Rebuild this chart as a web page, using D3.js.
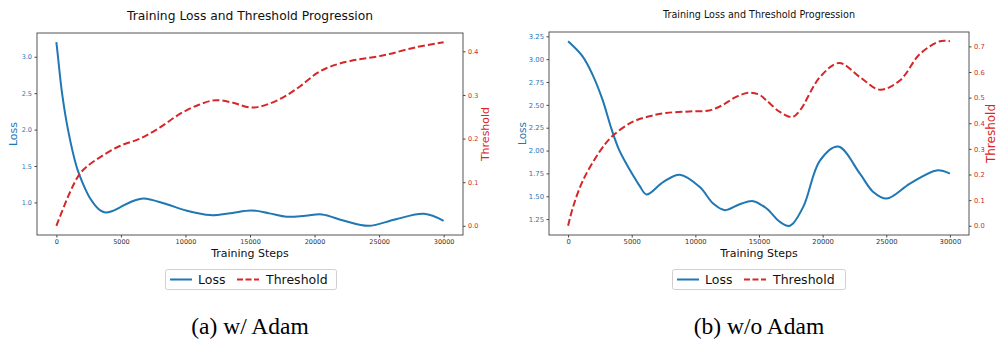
<!DOCTYPE html>
<html>
<head>
<meta charset="utf-8">
<script src="https://cdn.jsdelivr.net/npm/d3@7"></script>
<style>
  html, body { margin: 0; padding: 0; background: #fff; }
  svg { display: block; }
</style>
</head>
<body>
<svg id="chart" width="997" height="339"></svg>
<script>
// ---------- DATA ----------
const panelTitles = ["Training Loss and Threshold Progression", "Training Loss and Threshold Progression"];
const captions = ["(a) w/ Adam", "(b) w/o Adam"];
const xLabel = "Training Steps";
const seriesNames = ["Loss", "Threshold"];
const xTicks = [0, 5000, 10000, 15000, 20000, 25000, 30000];

// Panel (a): w/ Adam
const stepsLossA = [0, 125, 440, 900, 1550, 1786, 2200, 2600, 3000, 3400, 3800, 4300, 4900, 5800, 6755, 8500, 10117, 11925, 13500, 15100, 16500, 17850, 19300, 20574, 22300, 24193, 26300, 28494, 30000];
const lossA      = [3.2, 3.0, 2.5, 2.0, 1.5, 1.378, 1.20, 1.06, 0.96, 0.89, 0.862, 0.88, 0.93, 1.01, 1.055, 0.978, 0.885, 0.826, 0.853, 0.89, 0.85, 0.803, 0.817, 0.835, 0.748, 0.679, 0.77, 0.844, 0.748];
const stepsThrA  = [0, 1056, 1786, 2374, 3370, 4915, 6491, 8000, 9596, 11000, 12314, 13700, 15100, 16304, 17598, 18890, 20186, 21220, 22770, 25357, 27950, 30000];
const thrA       = [0, 0.077, 0.118, 0.136, 0.157, 0.183, 0.200, 0.225, 0.257, 0.277, 0.288, 0.282, 0.271, 0.278, 0.295, 0.32, 0.35, 0.365, 0.378, 0.391, 0.41, 0.421];
const lossTicksA = [1.0, 1.5, 2.0, 2.5, 3.0];
const thrTicksA  = [0.0, 0.1, 0.2, 0.3, 0.4];

// Panel (b): w/o Adam
const stepsLossB = [0, 1124, 1910, 2697, 3400, 4000, 4600, 5100, 5637, 6164, 7469, 8782, 10354, 11399, 12318, 13491, 14544, 15597, 16640, 17430, 18475, 19787, 21226, 22930, 23978, 25031, 26860, 28960, 30000];
const lossB      = [3.196, 3.033, 2.834, 2.56, 2.24, 2.01, 1.85, 1.73, 1.61, 1.52, 1.655, 1.736, 1.60, 1.42, 1.348, 1.413, 1.446, 1.366, 1.22, 1.177, 1.384, 1.89, 2.043, 1.747, 1.547, 1.475, 1.638, 1.783, 1.747];
const stepsThrB  = [0, 393, 1179, 2490, 3483, 5055, 6384, 7695, 9528, 11100, 12107, 13160, 14210, 14996, 15597, 16640, 17600, 18215, 19787, 21300, 22930, 24500, 26070, 27640, 29220, 30000];
const thrB       = [0, 0.074, 0.178, 0.29, 0.35, 0.405, 0.427, 0.44, 0.446, 0.45, 0.47, 0.502, 0.519, 0.512, 0.489, 0.444, 0.424, 0.45, 0.58, 0.635, 0.58, 0.531, 0.567, 0.67, 0.72, 0.72];
const lossTicksB = [1.25, 1.50, 1.75, 2.00, 2.25, 2.50, 2.75, 3.00, 3.25];
const thrTicksB  = [0.0, 0.1, 0.2, 0.3, 0.4, 0.5, 0.6, 0.7];

// ---------- STYLE / LAYOUT ----------
const BLUE = "#1f77b4", RED = "#d62728";
const svg = d3.select("#chart");

const panels = [
  { box: {x0: 37, x1: 463, y0: 33, y1: 235}, title: panelTitles[0], titleSize: 12.3, titleY: 19.5,
    stepsLoss: stepsLossA, loss: lossA, stepsThr: stepsThrA, thr: thrA,
    lossTicks: lossTicksA, thrTicks: thrTicksA, lossFmt: d3.format(".1f"), thrFmt: d3.format(".1f"),
    tickSize: 6.5, lossLabelSize: 11, thrLabelSize: 11, lossLabelX: 13, thrLabelX: 485,
    legend: {x0: 165, x1: 336}, caption: captions[0] },
  { box: {x0: 549, x1: 969, y0: 32, y1: 235}, title: panelTitles[1], titleSize: 9.6, titleY: 17.5,
    stepsLoss: stepsLossB, loss: lossB, stepsThr: stepsThrB, thr: thrB,
    lossTicks: lossTicksB, thrTicks: thrTicksB, lossFmt: d3.format(".2f"), thrFmt: d3.format(".1f"),
    tickSize: 6.8, lossLabelSize: 10.5, thrLabelSize: 12, lossLabelX: 521.5, thrLabelX: 991,
    legend: {x0: 672, x1: 845}, caption: captions[1] }
];

function padded(ext) { const r = ext[1] - ext[0]; return [ext[0] - 0.05 * r, ext[1] + 0.05 * r]; }

panels.forEach(p => {
  const b = p.box;
  const g = svg.append("g");
  const x = d3.scaleLinear().domain(padded([0, 30000])).range([b.x0, b.x1]);
  const yL = d3.scaleLinear().domain(padded(d3.extent(p.loss))).range([b.y1, b.y0]);
  const yR = d3.scaleLinear().domain(padded(d3.extent(p.thr))).range([b.y1, b.y0]);
  const cx = (b.x0 + b.x1) / 2;
  const cy = (b.y0 + b.y1) / 2;

  // title
  g.append("text").attr("x", cx).attr("y", p.titleY).attr("text-anchor", "middle")
    .attr("font-family", "DejaVu Sans").attr("font-size", p.titleSize).attr("fill", "#111").text(p.title);

  // lines
  const lossPts = p.stepsLoss.map((s, i) => [s, p.loss[i]]);
  const thrPts = p.stepsThr.map((s, i) => [s, p.thr[i]]);
  const lineL = d3.line().x(d => x(d[0])).y(d => yL(d[1])).curve(d3.curveCatmullRom.alpha(0.5));
  const lineR = d3.line().x(d => x(d[0])).y(d => yR(d[1])).curve(d3.curveCatmullRom.alpha(0.5));
  g.append("path").datum(lossPts).attr("d", lineL).attr("fill", "none").attr("stroke", BLUE).attr("stroke-width", 2);
  g.append("path").datum(thrPts).attr("d", lineR).attr("fill", "none").attr("stroke", RED)
    .attr("stroke-width", 2).attr("stroke-dasharray", "7,3");

  // axes
  const axB = d3.axisBottom(x).tickValues(xTicks).tickFormat(d3.format("d")).tickSize(2.5).tickPadding(2);
  const axL = d3.axisLeft(yL).tickValues(p.lossTicks).tickFormat(p.lossFmt).tickSize(2.5).tickPadding(2.5);
  const axR = d3.axisRight(yR).tickValues(p.thrTicks).tickFormat(p.thrFmt).tickSize(2.5).tickPadding(2.5);

  const gb = g.append("g").attr("transform", `translate(0,${b.y1})`).call(axB);
  const gl = g.append("g").attr("transform", `translate(${b.x0},0)`).call(axL);
  const gr = g.append("g").attr("transform", `translate(${b.x1},0)`).call(axR);
  [gb, gl, gr].forEach(a => {
    a.select(".domain").remove();
    a.selectAll("text").attr("font-family", "DejaVu Sans").attr("font-size", p.tickSize);
    a.selectAll("line").attr("stroke", "#444");
  });
  gb.selectAll("text").attr("fill", "#333");
  gl.selectAll("text").attr("fill", BLUE);
  gr.selectAll("text").attr("fill", RED);

  // frame
  g.append("rect").attr("x", b.x0).attr("y", b.y0).attr("width", b.x1 - b.x0).attr("height", b.y1 - b.y0)
    .attr("fill", "none").attr("stroke", "#555").attr("stroke-width", 1);

  // axis labels
  g.append("text").attr("x", cx).attr("y", 257).attr("text-anchor", "middle")
    .attr("font-family", "DejaVu Sans").attr("font-size", 11).attr("fill", "#111").text(xLabel);
  g.append("text").attr("transform", `translate(${p.lossLabelX},${cy}) rotate(-90)`)
    .attr("text-anchor", "middle").attr("dominant-baseline", "central")
    .attr("font-family", "DejaVu Sans").attr("font-size", p.lossLabelSize).attr("fill", BLUE).text(seriesNames[0]);
  g.append("text").attr("transform", `translate(${p.thrLabelX},${cy}) rotate(-90)`)
    .attr("text-anchor", "middle").attr("dominant-baseline", "central")
    .attr("font-family", "DejaVu Sans").attr("font-size", p.thrLabelSize).attr("fill", RED).text(seriesNames[1]);

  // legend
  const L = p.legend;
  const lg = g.append("g");
  lg.append("rect").attr("x", L.x0 + 0.5).attr("y", 269.5).attr("width", L.x1 - L.x0).attr("height", 20)
    .attr("rx", 2).attr("fill", "#fff").attr("stroke", "#d0d0d0").attr("stroke-width", 1);
  const ly = 279.5;
  lg.append("line").attr("x1", L.x0 + 5).attr("x2", L.x0 + 27).attr("y1", ly).attr("y2", ly)
    .attr("stroke", BLUE).attr("stroke-width", 2);
  lg.append("text").attr("x", L.x0 + 33).attr("y", ly).attr("dominant-baseline", "central")
    .attr("font-family", "DejaVu Sans").attr("font-size", 12.5).attr("fill", "#111").text(seriesNames[0]);
  lg.append("line").attr("x1", L.x0 + 72).attr("x2", L.x0 + 94).attr("y1", ly).attr("y2", ly)
    .attr("stroke", RED).attr("stroke-width", 2).attr("stroke-dasharray", "6,2.5");
  lg.append("text").attr("x", L.x0 + 101).attr("y", ly).attr("dominant-baseline", "central")
    .attr("font-family", "DejaVu Sans").attr("font-size", 12.5).attr("fill", "#111").text(seriesNames[1]);

  // caption
  g.append("text").attr("x", cx).attr("y", 334).attr("text-anchor", "middle")
    .attr("font-family", "Liberation Serif").attr("font-size", 23.5).attr("fill", "#000").text(p.caption);
});
</script>
</body>
</html>
